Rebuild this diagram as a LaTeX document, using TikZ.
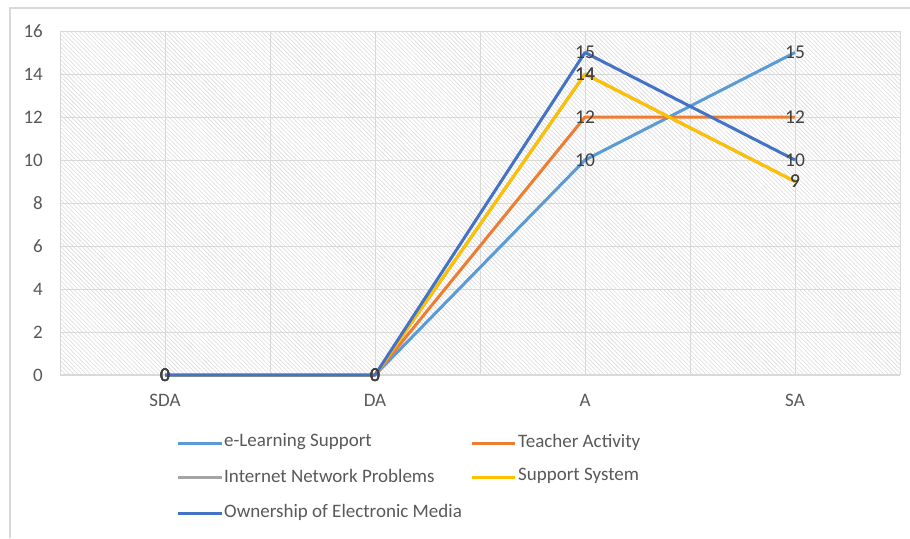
\documentclass[tikz,border=0pt]{standalone}
\usepackage{fontspec}
\setmainfont{Carlito}
\usetikzlibrary{patterns.meta}
\definecolor{cBlue}{HTML}{5B9BD5}
\definecolor{cOrange}{HTML}{ED7D31}
\definecolor{cGray}{HTML}{A5A5A5}
\definecolor{cYellow}{HTML}{FFC000}
\definecolor{cDark}{HTML}{4472C4}
\definecolor{gridc}{HTML}{D9D9D9}
\definecolor{hatchc}{HTML}{DCDCDC}
\definecolor{txt}{HTML}{595959}
\definecolor{lbl}{HTML}{404040}
\begin{document}
\begin{tikzpicture}[x=1pt,y=-1pt,
 series/.style={line width=3pt, line join=round},
 axlab/.style={font=\fontsize{19}{22}\selectfont, text=txt, inner sep=0pt},
 datlab/.style={font=\fontsize{19.5}{22}\selectfont, text=lbl, inner sep=0pt},
 legtext/.style={font=\fontsize{19}{22}\selectfont, text=txt, anchor=west, inner sep=0pt},
 legline/.style={line width=3pt}]
\useasboundingbox (0,0) rectangle (910,538);
\fill[white] (0,0) rectangle (910,538);
\draw[gridc, line width=1.3pt] (10,538) -- (10,8) -- (910,8);
% plot area hatch
\fill[pattern={Lines[angle=-45,distance=3pt,line width=0.6pt]}, pattern color=hatchc] (60,31) rectangle (900,375);
% grid
\foreach \v in {2,4,...,16} \draw[gridc, line width=1pt] (60,{375-21.5*\v}) -- (900,{375-21.5*\v});
\foreach \i in {0,...,8} \draw[gridc, line width=1pt] ({60+105*\i},31) -- ({60+105*\i},375);
\draw[gridc, line width=1.2pt] (60,375) -- (900,375);
% y labels
\foreach \v in {0,2,...,16} \node[axlab, anchor=east] (y\v) at (43,{375-21.5*\v}) {\v};
% category labels
\node[axlab] (cSDA) at (165,400) {SDA};
\node[axlab] (cDA) at (375,400) {DA};
\node[axlab] (cA) at (585,400) {A};
\node[axlab] (cSA) at (795,400) {SA};
% series data points
\foreach \name/\a/\b/\c/\d in {e/0/0/10/15, t/0/0/12/12, n/0/0/14/9, s/0/0/14/9, o/0/0/15/10}{
  \coordinate (\name1) at (165,{375-21.5*\a});
  \coordinate (\name2) at (375,{375-21.5*\b});
  \coordinate (\name3) at (585,{375-21.5*\c});
  \coordinate (\name4) at (795,{375-21.5*\d});
}
\draw[series, cBlue] (e1) -- (e2) -- (e3) -- (e4);
\draw[series, cOrange] (t1) -- (t2) -- (t3) -- (t4);
\draw[series, cGray] (n1) -- (n2) -- (n3) -- (n4);
\draw[series, cYellow] (s1) -- (s2) -- (s3) -- (s4);
\draw[series, cDark] (o1) -- (o2) -- (o3) -- (o4);
% data labels
\foreach \name/\a/\b/\c/\d in {e/0/0/10/15, t/0/0/12/12, n/0/0/14/9, s/0/0/14/9, o/0/0/15/10}{
  \node[datlab] (\name l1) at (\name1) {\a};
  \node[datlab] (\name l2) at (\name2) {\b};
  \node[datlab] (\name l3) at (\name3) {\c};
  \node[datlab] (\name l4) at (\name4) {\d};
}
% legend
\coordinate (le1) at (178,443); \coordinate (le2) at (222,443);
\draw[legline, cBlue] (le1) -- (le2);
\node[legtext] (lt1) at (224,442) {e-Learning Support};
\coordinate (lt1a) at (472,443); \coordinate (lt1b) at (515,443);
\draw[legline, cOrange] (lt1a) -- (lt1b);
\node[legtext] (lt2) at (518,442) {Teacher Activity};
\coordinate (ln1) at (178,477); \coordinate (ln2) at (222,477);
\draw[legline, cGray] (ln1) -- (ln2);
\node[legtext] (lt3) at (224,476) {Internet Network Problems};
\coordinate (ls1) at (472,477); \coordinate (ls2) at (515,477);
\draw[legline, cYellow] (ls1) -- (ls2);
\node[legtext] (lt4) at (518,476) {Support System};
\coordinate (lo1) at (178,513); \coordinate (lo2) at (222,513);
\draw[legline, cDark] (lo1) -- (lo2);
\node[legtext] (lt5) at (224,512) {Ownership of Electronic Media};
\end{tikzpicture}
\end{document}
